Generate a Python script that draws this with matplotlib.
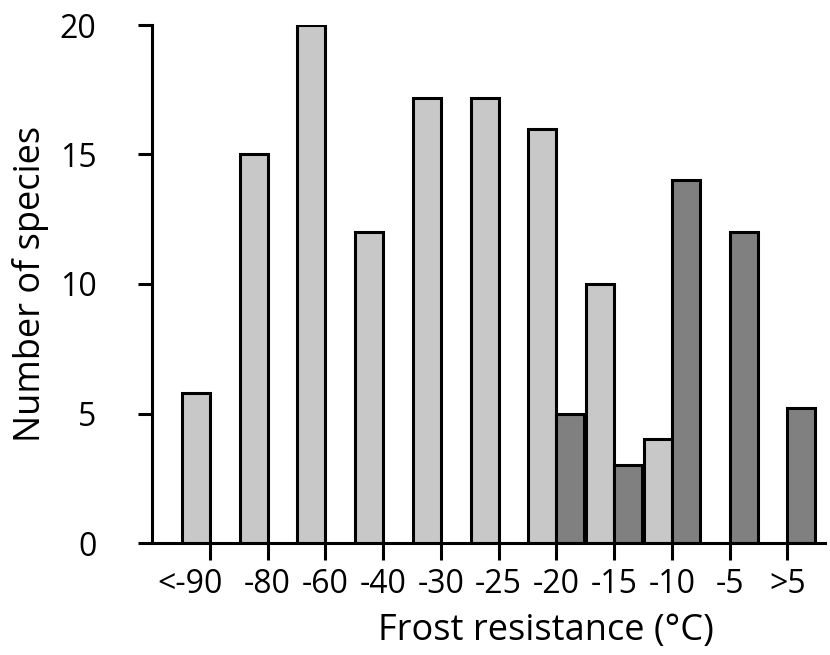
import matplotlib
matplotlib.use("Agg")
import matplotlib.pyplot as plt
import matplotlib.transforms as mtransforms
import numpy as np

categories = ["<-90", "-80", "-60", "-40", "-30", "-25", "-20", "-15", "-10", "-5", ">5"]
light_values = [5.8, 15.0, 20.0, 12.0, 17.2, 17.2, 16.0, 10.0, 4.0, 0, 0]
dark_values = [0, 0, 0, 0, 0, 0, 5.0, 3.0, 14.0, 12.0, 5.2]
y_ticks = [0, 5, 10, 15, 20]

plt.rcParams['font.family'] = ['Open Sans', 'DejaVu Sans']

fig = plt.figure(figsize=(8.3, 6.55), dpi=100)
ax = fig.add_axes([152/830, 112/655, 673/830, 518/655])

x = np.arange(len(categories))
w = 0.485
lx = [xi for xi, v in zip(x, light_values) if v > 0]
lv = [v for v in light_values if v > 0]
dx = [xi for xi, v in zip(x, dark_values) if v > 0]
dv = [v for v in dark_values if v > 0]
ax.bar(lx, lv, width=-w, align='edge', color='#c8c8c8', edgecolor='black', linewidth=2.2, zorder=2)
ax.bar(dx, dv, width=w, align='edge', color='#808080', edgecolor='black', linewidth=2.2, zorder=2)

ax.set_xlim(-1.0, 10.65)
ax.set_ylim(0, 20)
ax.set_xticks(x)
ax.set_xticklabels(categories)
ax.set_yticks(y_ticks)
for s in ['top', 'right']:
    ax.spines[s].set_visible(False)
for s in ['left', 'bottom']:
    ax.spines[s].set_linewidth(2.2)
ax.tick_params(axis='x', length=12, width=2.2, pad=6, labelsize=23)
ax.tick_params(axis='y', length=10, width=2.2, pad=30, labelsize=23)
ax.set_xlabel("Frost resistance (°C)", fontsize=26, labelpad=10)
ax.xaxis.set_label_coords(0.585, -0.135)
ax.set_ylabel("Number of species", fontsize=26, labelpad=8)

# first label sits slightly left of its tick in the reference
lbl0 = ax.get_xticklabels()[0]
lbl0.set_transform(lbl0.get_transform() + mtransforms.ScaledTranslation(-0.2, 0, fig.dpi_scale_trans))

fig.savefig("out.png", dpi=100)
